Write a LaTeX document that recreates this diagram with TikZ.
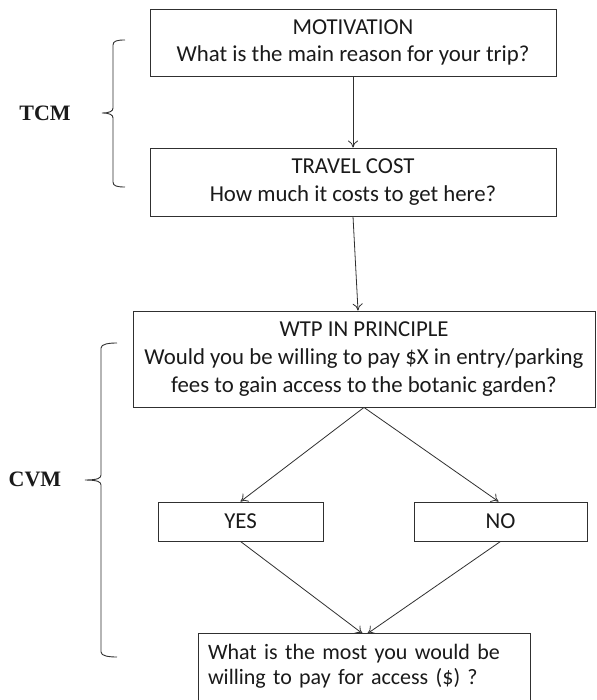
\documentclass[tikz,border=0pt]{standalone}
\usepackage{fontspec}
\setmainfont{Carlito}
\newfontfamily\labfont{Liberation Serif}
\usetikzlibrary{arrows.meta,calc}
\definecolor{linecol}{HTML}{303030}
\definecolor{txtcol}{HTML}{1A1A1A}
\tikzset{
  boxline/.style={draw=linecol, line width=0.9pt},
  box/.style={boxline, inner sep=0pt, text=txtcol,
    font=\fontsize{22.8}{27.8}\selectfont, align=center},
  arr/.style={draw=linecol, line width=0.8pt, -{To[length=7pt,width=10pt]}},
  brace/.style={draw=linecol, line width=0.9pt},
  lab/.style={font=\labfont\bfseries\fontsize{22}{24}\selectfont, text=txtcol}
}
\begin{document}
\begin{tikzpicture}[x=1pt,y=-1pt]
\useasboundingbox (0,0) rectangle (596,700);
\fill[white] (0,0) rectangle (596,700);

\node[box, minimum width=406pt, minimum height=67pt] (mot) at (353,42.5)
  {MOTIVATION\\What is the main reason for your trip?};
\node[box, minimum width=406pt, minimum height=68pt] (tc) at (353,182)
  {TRAVEL COST\\How much it costs to get here?};
\node[box, minimum width=462pt, minimum height=96pt] (wtp) at (364,359)
  {WTP IN PRINCIPLE\\Would you be willing to pay \$X in entry/parking\\fees to gain access to the botanic garden?};
\node[box, minimum width=165pt, minimum height=39pt] (yes) at (240.5,521.5) {YES};
\node[box, minimum width=173pt, minimum height=39pt] (no) at (500.5,521.5) {NO};
\node[box, draw=none, minimum width=331pt, minimum height=64pt, text width=313pt, align=left, inner xsep=9pt,
  font=\fontsize{22}{25.5}\selectfont] (fin) at (364.5,666)
  {What is the most you would be\\willing to pay for access (\$) ?};
\draw[boxline] ([yshift=-8pt]fin.south west) -- (fin.north west) -- (fin.north east) -- ([yshift=-8pt]fin.south east);

\draw[arr] (mot.south) -- (tc.north);
\draw[arr] (tc.south) -- ([xshift=-6pt]wtp.north);
\draw[arr] (wtp.south) -- (yes.north);
\draw[arr] (wtp.south) -- ([xshift=-2pt]no.north);
\draw[arr] (yes.south) -- ([xshift=-2pt]fin.north);
\draw[arr] (no.south) -- ([xshift=3pt]fin.north);

\node[lab] (tcm) at (45,113) {TCM};
\node[lab] (cvm) at (35,479) {CVM};

\draw[brace] (125,40) .. controls (117,40) and (113,41) .. (113,45) -- (113,108)
  .. controls (113,111) and (110,113) .. (102,113)
  .. controls (110,113) and (113,115) .. (113,118) -- (113,182)
  .. controls (113,186) and (117,187) .. (125,187);
\draw[brace] (117,343) .. controls (109,343) and (101,344) .. (101,348) -- (101,475)
  .. controls (101,478) and (98,480) .. (85,480)
  .. controls (98,480) and (101,482) .. (101,485) -- (101,652)
  .. controls (101,656) and (109,657) .. (117,657);
\end{tikzpicture}
\end{document}
